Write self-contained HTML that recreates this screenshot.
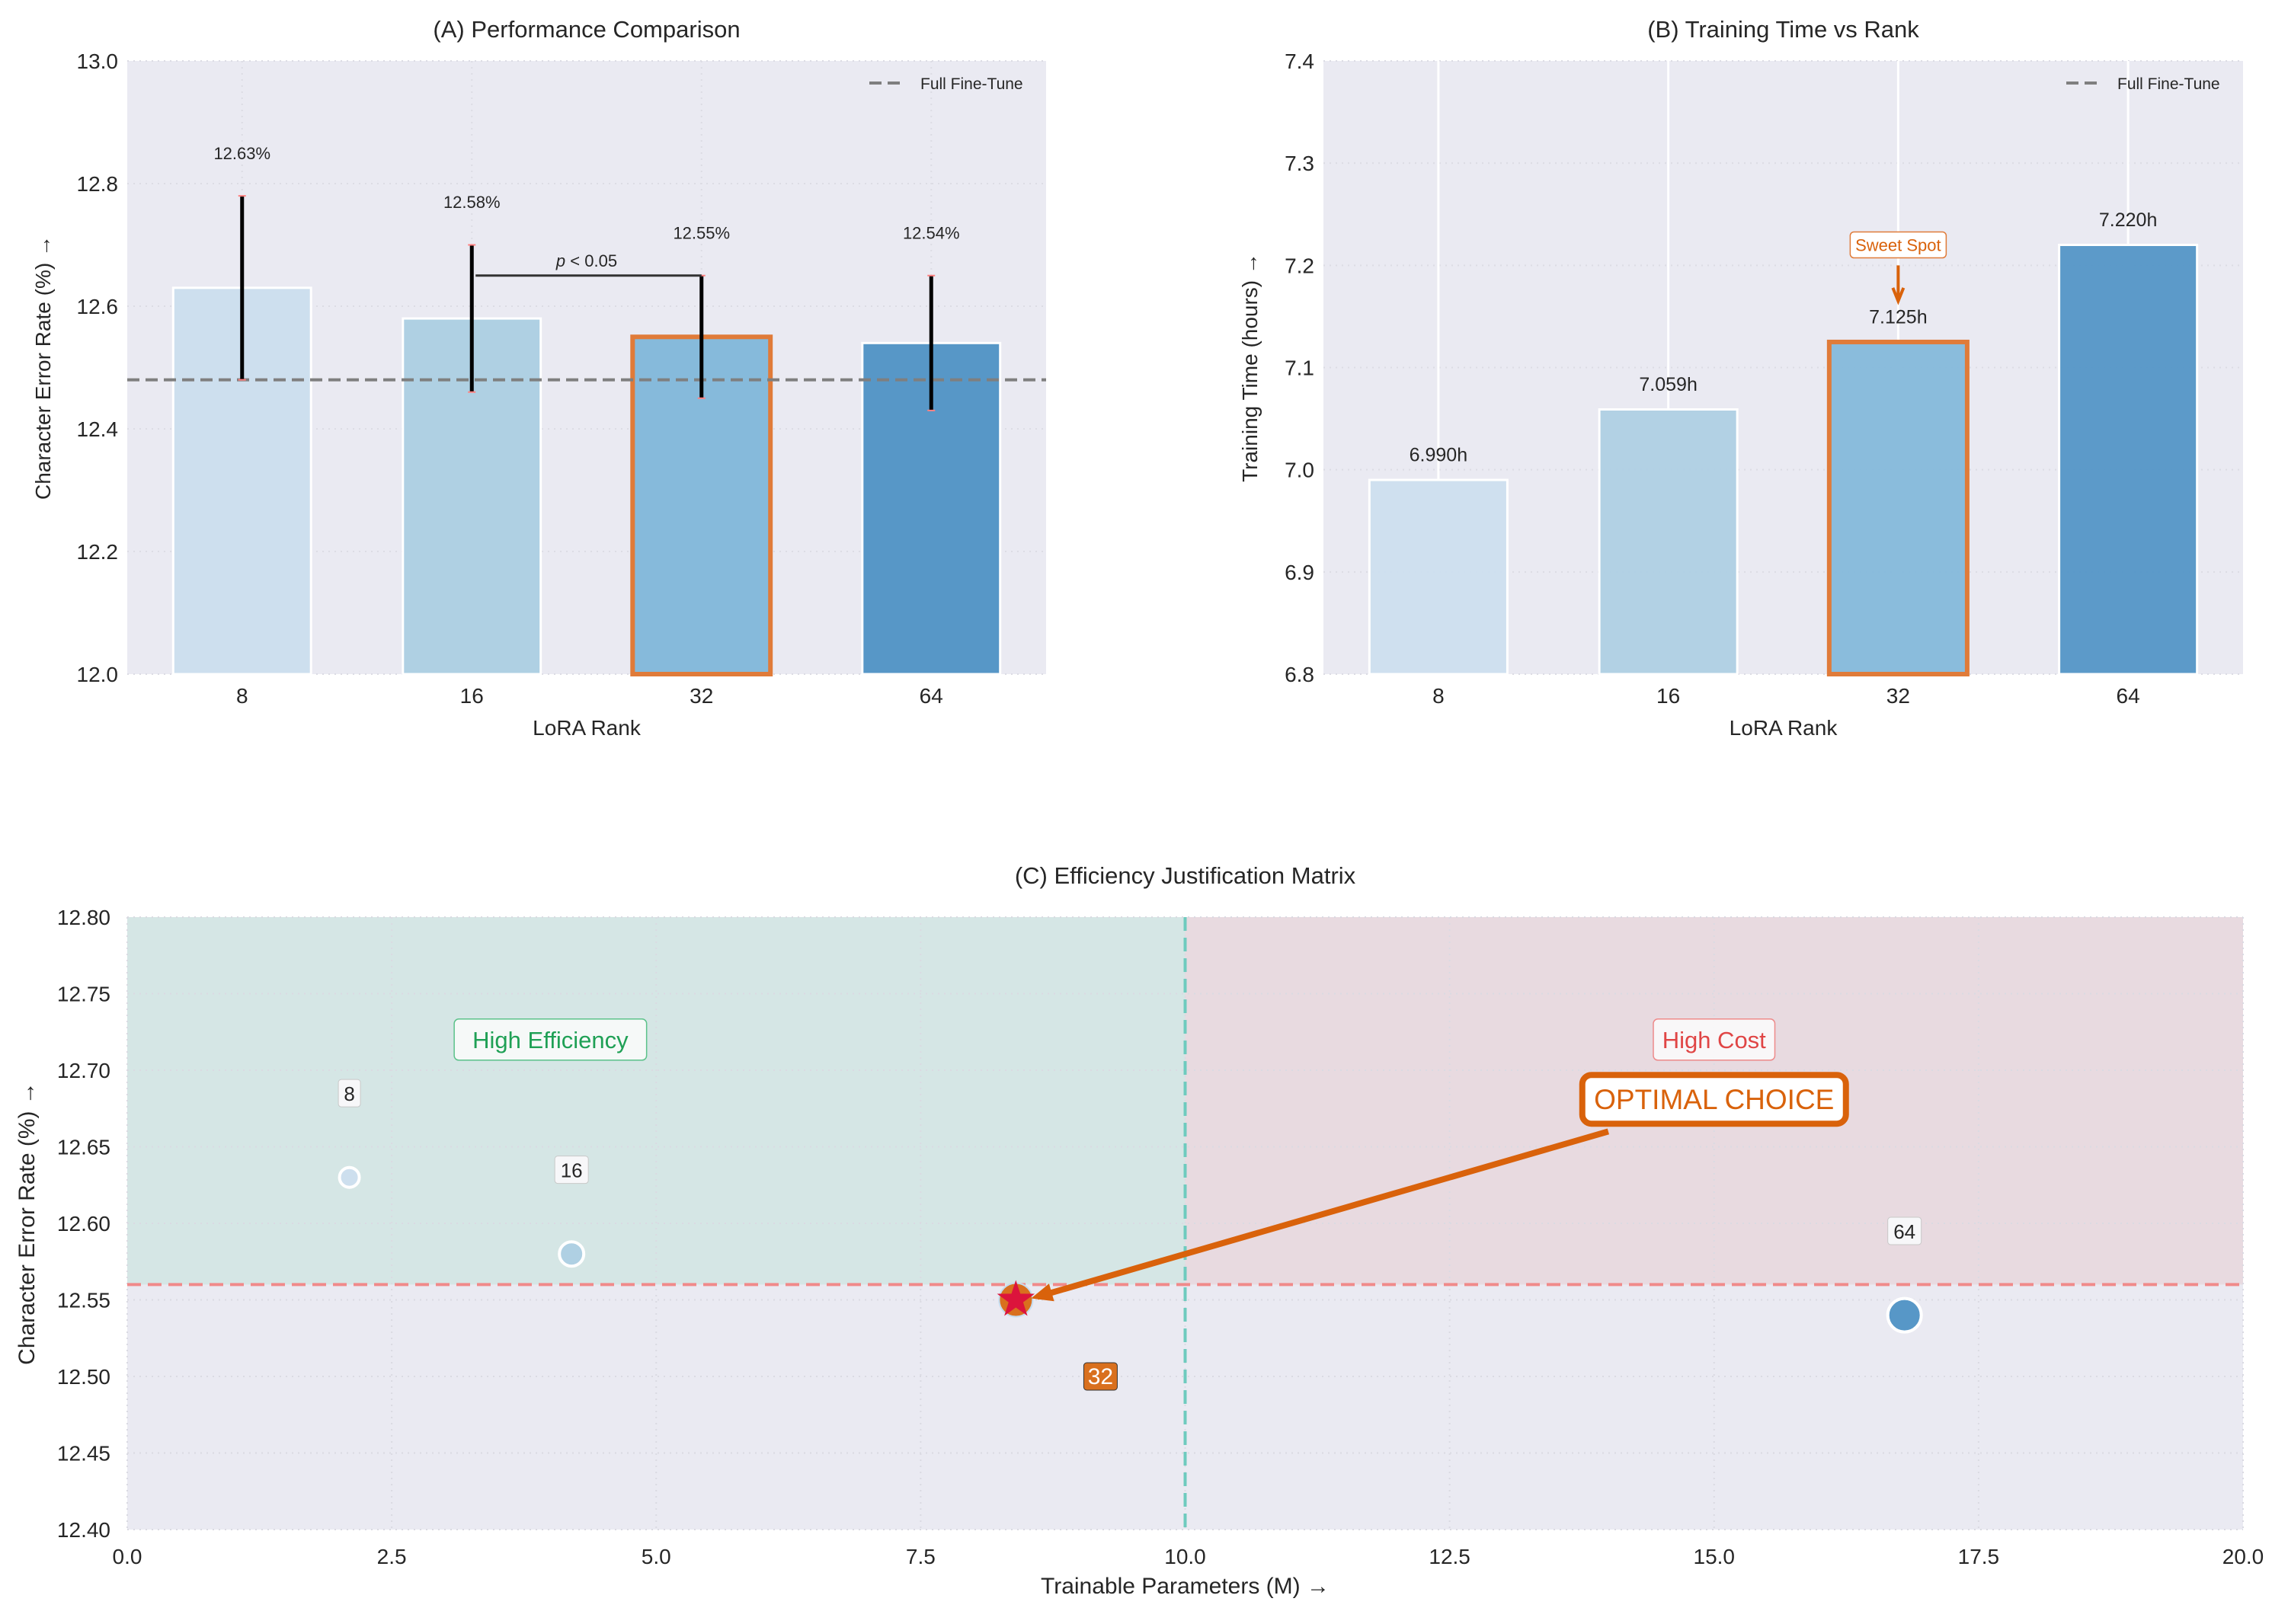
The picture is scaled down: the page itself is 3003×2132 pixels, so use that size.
<!DOCTYPE html>
<html><head><meta charset="utf-8"><style>
html,body{margin:0;padding:0;background:#fff}
svg text{font-family:"Liberation Sans",sans-serif;fill:#262626}
</style></head><body>
<svg id="fig" xmlns="http://www.w3.org/2000/svg" width="3003" height="2127" viewBox="0 0 3003 2127">
<g id="pa"></g>
<g id="pb"></g>
<g id="pc"></g>
</svg>
<script>
const ranks = ["8","16","32","64"];
const cerValues = [12.63, 12.58, 12.55, 12.54];
const cerErrors = [0.15, 0.12, 0.10, 0.11];
const fullFineTune = 12.48;
const aTicks = [12.0, 12.2, 12.4, 12.6, 12.8, 13.0];
const timeValues = [6.990, 7.059, 7.125, 7.220];
const bTicks = [6.8, 6.9, 7.0, 7.1, 7.2, 7.3, 7.4];
const paramsM = [2.1, 4.2, 8.4, 16.8];
const cTicksX = [0, 2.5, 5, 7.5, 10, 12.5, 15, 17.5, 20];
const cTicksY = [12.40, 12.45, 12.50, 12.55, 12.60, 12.65, 12.70, 12.75, 12.80];
const cerThreshold = 12.56;
const paramThreshold = 10;
const barColors = ["#cddfee","#afd0e3","#86badb","#5797c7"];
const NS = "http://www.w3.org/2000/svg";
function mk(parent, tag, attrs, text){
  const e = document.createElementNS(NS, tag);
  for (const k in attrs) e.setAttribute(k, attrs[k]);
  if (text !== undefined) e.textContent = text;
  parent.appendChild(e); return e;
}

// ---------- Panel A ----------
(function(){
  const g = document.getElementById('pa');
  const L=167,R=1373,T=80,B=885, y0=12.0,y1=13.0;
  const xs = i => L + (i+0.5)/4*(R-L);
  const ys = v => B - (v-y0)/(y1-y0)*(B-T);
  const bw = 0.6/4*(R-L);
  let e = mk(g,'rect',{x:L,y:T,width:R-L,height:B-T,fill:'#eaeaf2'});
   
  aTicks.forEach(t=>{
    let l = mk(g,'line',{x1:L,x2:R,y1:ys(t),y2:ys(t),stroke:'#dcdce4','stroke-width':2,'stroke-dasharray':'2 6'});
     
    let tx = mk(g,'text',{x:L-12,y:ys(t)+10,'font-size':28,'text-anchor':'end'},t.toFixed(1));
     
  });
  ranks.forEach((r,i)=>{
    let l = mk(g,'line',{x1:xs(i),x2:xs(i),y1:T,y2:B,stroke:'#dcdce4','stroke-width':2,'stroke-dasharray':'2 6'});
     
  });
  ranks.forEach((r,i)=>{
    const v = cerValues[i];
    const hl = r==="32";
    let b = mk(g,'rect',{x:xs(i)-bw/2,y:ys(v),width:bw,height:B-ys(v),fill:barColors[i],stroke:hl?'#e07b39':'#ffffff','stroke-width':hl?6:3});
     
    let tl = mk(g,'text',{x:xs(i),y:B+38,'font-size':28,'text-anchor':'middle'},r);
     
  });
  let ff = mk(g,'line',{x1:L,x2:R,y1:ys(fullFineTune),y2:ys(fullFineTune),stroke:'#7f7f7f','stroke-width':4,'stroke-dasharray':'16 8'});
   
  ranks.forEach((r,i)=>{
    const v=cerValues[i], er=cerErrors[i];
    let eb = mk(g,'line',{x1:xs(i),x2:xs(i),y1:ys(v-er),y2:ys(v+er),stroke:'#000','stroke-width':5});
     
    [v-er,v+er].forEach(c=>{ let cp=mk(g,'line',{x1:xs(i)-5,x2:xs(i)+5,y1:ys(c),y2:ys(c),stroke:'#ff8080','stroke-width':2});
        });
    let vl = mk(g,'text',{x:xs(i),y:ys(v+er+0.07)+8,'font-size':22,'text-anchor':'middle'},v.toFixed(2)+'%');
     
  });
  const yb = ys(cerValues[2]+cerErrors[2]);
  let br = mk(g,'line',{x1:xs(1)+5,x2:xs(2),y1:yb,y2:yb,stroke:'#333','stroke-width':3});
   
  let pt = mk(g,'text',{x:(xs(1)+xs(2))/2,y:yb-12,'font-size':22,'text-anchor':'middle'});
   
  mk(pt,'tspan',{'font-style':'italic'},'p'); mk(pt,'tspan',{},' < 0.05');
  let lg = mk(g,'line',{x1:1141,x2:1187,y1:109,y2:109,stroke:'#7f7f7f','stroke-width':4,'stroke-dasharray':'16 8'});
   
  let lt = mk(g,'text',{x:1208,y:117,'font-size':21},'Full Fine-Tune');
   
  let ti = mk(g,'text',{x:(L+R)/2,y:49,'font-size':31,'text-anchor':'middle'},'(A) Performance Comparison');
   
  let xl = mk(g,'text',{x:(L+R)/2,y:965,'font-size':28,'text-anchor':'middle'},'LoRA Rank');
   
  let yl = mk(g,'text',{x:0,y:0,'font-size':28,'text-anchor':'middle',transform:'translate(66,'+((T+B)/2)+') rotate(-90)'},'Character Error Rate (%) →');
   
})();

// ---------- Panel B ----------
(function(){
  const g = document.getElementById('pb');
  const L=1737,R=2944,T=80,B=885, y0=6.8,y1=7.4;
  const xs = i => L + (i+0.5)/4*(R-L);
  const ys = v => B - (v-y0)/(y1-y0)*(B-T);
  const bw = 0.6/4*(R-L);
  let e = mk(g,'rect',{x:L,y:T,width:R-L,height:B-T,fill:'#eaeaf2'});
   
  bTicks.forEach(t=>{
    let l = mk(g,'line',{x1:L,x2:R,y1:ys(t),y2:ys(t),stroke:'#dcdce4','stroke-width':2,'stroke-dasharray':'2 6'});
     
    let tx = mk(g,'text',{x:L-12,y:ys(t)+10,'font-size':28,'text-anchor':'end'},t.toFixed(1));
     
  });
  ranks.forEach((r,i)=>{
    let l = mk(g,'line',{x1:xs(i),x2:xs(i),y1:T,y2:B,stroke:'#ffffff','stroke-width':3});
     
  });
  ranks.forEach((r,i)=>{
    const v=timeValues[i], hl=r==="32";
    let b = mk(g,'rect',{x:xs(i)-bw/2,y:ys(v),width:bw,height:B-ys(v),fill:barColors[i],'fill-opacity':0.97,stroke:hl?'#e07b39':'#ffffff','stroke-width':hl?6:3});
     
    let vl = mk(g,'text',{x:xs(i),y:ys(v+0.025)+9,'font-size':25,'text-anchor':'middle'},v.toFixed(3)+'h');
     
    let tl = mk(g,'text',{x:xs(i),y:B+38,'font-size':28,'text-anchor':'middle'},r);
     
  });
  const sx = xs(2);
  let sb = mk(g,'rect',{x:sx-63,y:ys(7.22)-17,width:126,height:34,rx:5,fill:'#fff',stroke:'#e07b39','stroke-width':1.5});
   
  let st = mk(g,'text',{x:sx,y:ys(7.22)+8,'font-size':22,'text-anchor':'middle',style:'fill:#d9620b'},'Sweet Spot');
   
  let sa = mk(g,'path',{d:`M${sx},${ys(7.2)} L${sx},${ys(7.167)} M${sx-7},${ys(7.178)} L${sx},${ys(7.165)} L${sx+7},${ys(7.178)}`,stroke:'#d9620b','stroke-width':4,fill:'none'});
   
  let lg = mk(g,'line',{x1:2712,x2:2758,y1:109,y2:109,stroke:'#7f7f7f','stroke-width':4,'stroke-dasharray':'16 8'});
   
  let lt = mk(g,'text',{x:2779,y:117,'font-size':21},'Full Fine-Tune');
   
  let ti = mk(g,'text',{x:(L+R)/2,y:49,'font-size':31,'text-anchor':'middle'},'(B) Training Time vs Rank');
   
  let xl = mk(g,'text',{x:(L+R)/2,y:965,'font-size':28,'text-anchor':'middle'},'LoRA Rank');
   
  let yl = mk(g,'text',{x:0,y:0,'font-size':28,'text-anchor':'middle',transform:'translate(1650,'+((T+B)/2)+') rotate(-90)'},'Training Time (hours) →');
   
})();

// ---------- Panel C ----------
(function(){
  const g = document.getElementById('pc');
  const L=167,R=2944,T=1204,B=2008, x0=0,x1=20,y0=12.40,y1=12.80;
  const xs = v => L + (v-x0)/(x1-x0)*(R-L);
  const ys = v => B - (v-y0)/(y1-y0)*(B-T);
  let e = mk(g,'rect',{x:L,y:T,width:R-L,height:B-T,fill:'#eaeaf2'});
   
  let ge = mk(g,'rect',{x:L,y:T,width:xs(paramThreshold)-L,height:ys(cerThreshold)-T,fill:'#d5e6e5'});
   
  let rc = mk(g,'rect',{x:xs(paramThreshold),y:T,width:R-xs(paramThreshold),height:ys(cerThreshold)-T,fill:'#e8dae0'});
   
  cTicksY.forEach(t=>{
    let l = mk(g,'line',{x1:L,x2:R,y1:ys(t),y2:ys(t),stroke:'#dadae2','stroke-width':2,'stroke-dasharray':'2 6'});
     
    let tx = mk(g,'text',{x:L-22,y:ys(t)+10,'font-size':28,'text-anchor':'end'},t.toFixed(2));
     
  });
  cTicksX.forEach(t=>{
    let l = mk(g,'line',{x1:xs(t),x2:xs(t),y1:T,y2:B,stroke:'#dadae2','stroke-width':2,'stroke-dasharray':'2 6'});
     
    let tx = mk(g,'text',{x:xs(t),y:B+45,'font-size':28,'text-anchor':'middle'},t.toFixed(1));
     
  });
  let hl = mk(g,'line',{x1:L,x2:R,y1:ys(cerThreshold),y2:ys(cerThreshold),stroke:'#f08a8a','stroke-width':4,'stroke-dasharray':'18 9'});
   
  let vl = mk(g,'line',{x1:xs(paramThreshold),x2:xs(paramThreshold),y1:T,y2:B,stroke:'#6ecbbe','stroke-width':4,'stroke-dasharray':'18 9'});
   
  const radii = [13,16,22,22];
  ranks.forEach((r,i)=>{
    const cx=xs(paramsM[i]), cy=ys(cerValues[i]);
    const opt = r==="32";
    let c = mk(g,'circle',{cx:cx,cy:cy,r:radii[i],fill:opt?'#d9701e':barColors[i],stroke:opt?'#c5dcee':'#ffffff','stroke-width':opt?2:4});
     
  });
  function labelBox(x,y,txt,opt){
    const w = 14+txt.length*15, h=36;
    let b = mk(g,'rect',{x:x-w/2,y:y-h/2,width:w,height:h,rx:4,fill:opt?'#d9701e':'#f7f7f9',stroke:opt?'#333':'#c8c8c8','stroke-width':1});
     
    let t = mk(g,'text',{x:x,y:y+10,'font-size':opt?30:26,'text-anchor':'middle',style:opt?'fill:#fff':''},txt);
     
  }
  ranks.forEach((r,i)=>{
    const opt=r==="32";
    if(opt) labelBox(xs(paramsM[i]+0.8), ys(cerValues[i]-0.05), r, true);
    else labelBox(xs(paramsM[i]), ys(cerValues[i]+0.055), r, false);
  });
  const sx=xs(paramsM[2]), sy=ys(cerValues[2]);
  let pts=[]; for(let k=0;k<10;k++){const a=-Math.PI/2+k*Math.PI/5, rr=k%2?10:26; pts.push((sx+rr*Math.cos(a)).toFixed(1)+','+(sy+rr*Math.sin(a)).toFixed(1));}
  let star = mk(g,'polygon',{points:pts.join(' '),fill:'#dc143c'});
   
  function regionLabel(x,y,txt,col,bcol,name){
    const w = txt.length*15.5+20;
    let b = mk(g,'rect',{x:x-w/2,y:y-27,width:w,height:54,rx:6,fill:'#fbfbfc','fill-opacity':0.85,stroke:bcol,'stroke-width':1.5});
     
    let t = mk(g,'text',{x:x,y:y+11,'font-size':31,'text-anchor':'middle',style:'fill:'+col},txt);
     
  }
  regionLabel(xs(4), ys(12.72), 'High Efficiency', '#1fa055', '#5cc28a', 'high-efficiency');
  regionLabel(xs(15), ys(12.72), 'High Cost', '#e04545', '#ee8a8a', 'high-cost');
  const ox=xs(15), oy=ys(12.681);
  let ar = mk(g,'path',{d:`M${xs(14)},${ys(12.66)} L${sx+28},${sy-4}`,stroke:'#d9620b','stroke-width':8,fill:'none'});
   
  const ang=Math.atan2(ys(12.66)-(sy-4), xs(14)-(sx+28));
  const hx=sx+20, hy=sy-2;
  let ah = mk(g,'polygon',{points:`${hx},${hy} ${hx+28*Math.cos(ang)-12*Math.sin(ang)},${hy+28*Math.sin(ang)+12*Math.cos(ang)} ${hx+28*Math.cos(ang)+12*Math.sin(ang)},${hy+28*Math.sin(ang)-12*Math.cos(ang)}`,fill:'#d9620b'});
   
  let ob = mk(g,'rect',{x:ox-173,y:oy-32,width:346,height:64,rx:12,fill:'#ffffff',stroke:'#d9620b','stroke-width':8});
   
  let ot = mk(g,'text',{x:ox,y:oy+13,'font-size':37,'text-anchor':'middle',style:'fill:#d9620b'},'OPTIMAL CHOICE');
   
  let ti = mk(g,'text',{x:(L+R)/2,y:1160,'font-size':31,'text-anchor':'middle'},'(C) Efficiency Justification Matrix');
   
  let xl = mk(g,'text',{x:(L+R)/2,y:2092,'font-size':30,'text-anchor':'middle'},'Trainable Parameters (M) →');
   
  let yl = mk(g,'text',{x:0,y:0,'font-size':30,'text-anchor':'middle',transform:'translate(45,'+((T+B)/2)+') rotate(-90)'},'Character Error Rate (%) →');
   
})();
</script>
</body></html>
